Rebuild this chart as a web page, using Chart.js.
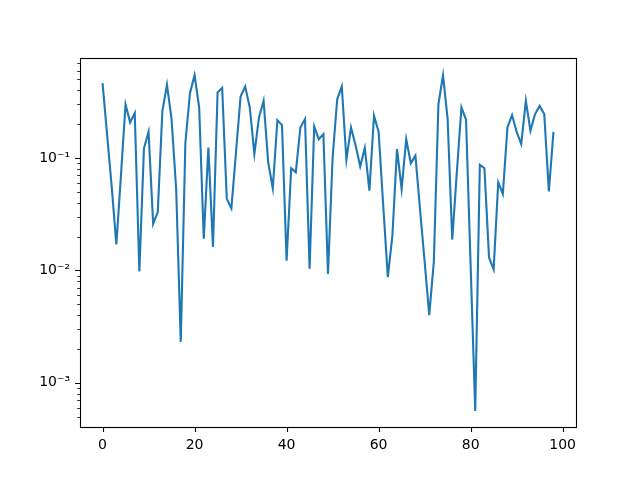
<!DOCTYPE html>
<html>
<head>
<meta charset="utf-8">
<script src="https://cdn.jsdelivr.net/npm/chart.js@4/dist/chart.umd.min.js"></script>
<style>
html,body{margin:0;padding:0;background:#fff;}
#wrap{width:640px;height:480px;}
</style>
</head>
<body>
<div id="wrap"><canvas id="c" width="640" height="480"></canvas></div>
<script>
// ---- data ----
const xValues = [0,1,2,3,4,5,6,7,8,9,10,11,12,13,14,15,16,17,18,19,20,21,22,23,24,25,26,27,28,29,30,31,32,33,34,35,36,37,38,39,40,41,42,43,44,45,46,47,48,49,50,51,52,53,54,55,56,57,58,59,60,61,62,63,64,65,66,67,68,69,70,71,72,73,74,75,76,77,78,79,80,81,82,83,84,85,86,87,88,89,90,91,92,93,94,95,96,97,98];
const seriesValues = [
  0.463, 0.16, 0.055, 0.017, 0.07, 0.30, 0.207, 0.251, 0.0098, 0.122,
  0.171, 0.026, 0.033, 0.26, 0.45, 0.222, 0.053, 0.00231, 0.136, 0.377,
  0.545, 0.282, 0.0191, 0.124, 0.0162, 0.383, 0.421, 0.0433, 0.0357, 0.112,
  0.352, 0.432, 0.282, 0.109, 0.23, 0.323, 0.0916, 0.0538, 0.217, 0.196,
  0.0122, 0.081, 0.0746, 0.187, 0.222, 0.01035, 0.191, 0.147, 0.163, 0.0093,
  0.1, 0.333, 0.433, 0.0966, 0.187, 0.129, 0.0843, 0.123, 0.0513, 0.238,
  0.171, 0.038, 0.0087, 0.0205, 0.12, 0.053, 0.147, 0.0897, 0.105, 0.035,
  0.012, 0.0040, 0.0119, 0.301, 0.545, 0.222, 0.0188, 0.0746, 0.282, 0.219,
  0.011, 0.00056, 0.087, 0.081, 0.013, 0.0102, 0.0608, 0.048, 0.187, 0.241,
  0.171, 0.133, 0.323, 0.175, 0.246, 0.291, 0.246, 0.0503, 0.171
];
const xTickValues = [0, 20, 40, 60, 80, 100];
const yTickValues = [0.001, 0.01, 0.1];
const yTickLabels = ['10\u207B\u00B3', '10\u207B\u00B2', '10\u207B\u00B9'];
const yMinorTickValues = [0.0005,0.0006,0.0007,0.0008,0.0009,
  0.002,0.003,0.004,0.005,0.006,0.007,0.008,0.009,
  0.02,0.03,0.04,0.05,0.06,0.07,0.08,0.09,
  0.2,0.3,0.4,0.5,0.6,0.7];

const points = xValues.map((x, i) => ({x: x, y: seriesValues[i]}));

const framePlugin = {
  id: 'frameTicks',
  afterDraw(chart) {
    const ctx = chart.ctx, a = chart.chartArea;
    const xs = chart.scales.x, ys = chart.scales.y;
    ctx.save();
    ctx.strokeStyle = '#000';
    ctx.lineWidth = 1.1;
    ctx.beginPath();
    xTickValues.forEach(v => {
      const px = Math.round(xs.getPixelForValue(v)) + 0.5;
      ctx.moveTo(px, a.bottom); ctx.lineTo(px, a.bottom + 4.9);
    });
    yTickValues.forEach(v => {
      const py = Math.round(ys.getPixelForValue(v)) + 0.5;
      ctx.moveTo(a.left, py); ctx.lineTo(a.left - 4.9, py);
    });
    ctx.stroke();
    ctx.lineWidth = 0.8;
    ctx.beginPath();
    yMinorTickValues.forEach(v => {
      const py = Math.round(ys.getPixelForValue(v)) + 0.5;
      if (py < a.top || py > a.bottom) return;
      ctx.moveTo(a.left, py); ctx.lineTo(a.left - 2.8, py);
    });
    ctx.stroke();
    ctx.lineWidth = 1.1;
    ctx.strokeRect(Math.round(a.left) + 0.5, Math.round(a.top) + 0.5,
      Math.round(a.right - a.left), Math.round(a.bottom - a.top));
    ctx.restore();
  }
};

new Chart(document.getElementById('c'), {
  type: 'line',
  data: {
    datasets: [{
      data: points,
      borderColor: '#1f77b4',
      borderWidth: 2.1,
      pointRadius: 0,
      pointHoverRadius: 0,
      tension: 0,
      fill: false
    }]
  },
  options: {
    responsive: false,
    animation: false,
    events: [],
    layout: { padding: { top: 58, right: 64, left: 0, bottom: 0 } },
    plugins: { legend: { display: false }, tooltip: { enabled: false } },
    scales: {
      x: {
        type: 'linear',
        min: -4.9,
        max: 102.9,
        grid: { display: false, drawTicks: false },
        border: { display: false },
        afterBuildTicks: s => { s.ticks = xTickValues.map(v => ({ value: v })); },
        afterFit: s => { s.height = 53; },
        ticks: {
          autoSkip: false,
          maxRotation: 0,
          padding: 10,
          color: '#000',
          font: { family: 'DejaVu Sans', size: 14 },
          callback: v => String(v)
        }
      },
      y: {
        type: 'logarithmic',
        min: 0.000404,
        max: 0.776,
        grid: { display: false, drawTicks: false },
        border: { display: false },
        afterBuildTicks: s => { s.ticks = yTickValues.map(v => ({ value: v, major: true })); },
        afterFit: s => { s.width = 80; },
        ticks: {
          autoSkip: false,
          padding: 10,
          color: '#000',
          font: { family: 'DejaVu Sans', size: 14 },
          callback: v => {
            const i = yTickValues.findIndex(t => Math.abs(t - v) / t < 1e-6);
            return i >= 0 ? yTickLabels[i] : '';
          }
        }
      }
    }
  },
  plugins: [framePlugin]
});
</script>
</body>
</html>
